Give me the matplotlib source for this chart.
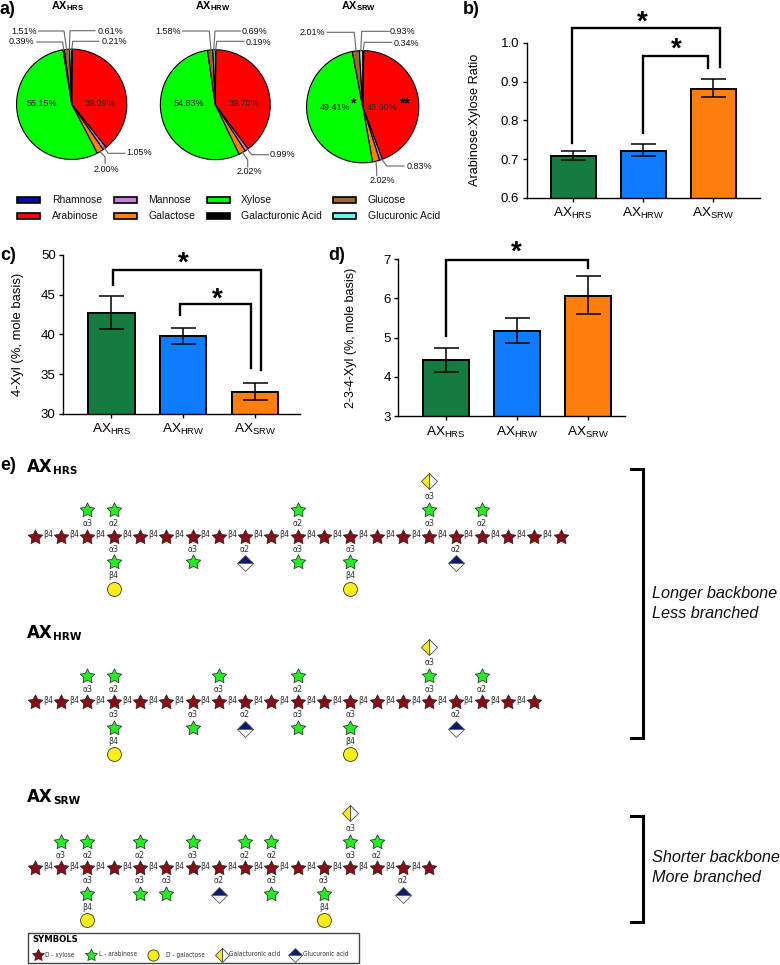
import matplotlib
matplotlib.use("Agg")
from matplotlib import pyplot as plt
from matplotlib.patches import Rectangle
from matplotlib.path import Path

plt.rcParams['font.family'] = ['Liberation Sans', 'DejaVu Sans']
plt.rcParams['mathtext.fontset'] = 'custom'
plt.rcParams['mathtext.rm'] = 'Liberation Sans'
plt.rcParams['mathtext.it'] = 'Liberation Sans:italic'
plt.rcParams['mathtext.bf'] = 'Liberation Sans:bold'
plt.rcParams['mathtext.default'] = 'regular'

W, H = 780, 965

# panel a
sugars = ['Rhamnose', 'Arabinose', 'Mannose', 'Galactose', 'Xylose',
          'Galacturonic Acid', 'Glucose', 'Glucuronic Acid']
sugar_colors = ['#0a0aa8', '#ff0000', '#c77fe0', '#ff8008', '#00ff00',
                '#000000', '#9c6a28', '#70f0f0']
pie_hrs = [0.21, 39.09, 1.05, 2.00, 55.15, 0.39, 1.51, 0.61]
pie_hrw = [0.19, 39.70, 0.99, 2.02, 54.83, 0.00, 1.58, 0.69]
pie_srw = [0.34, 43.60, 0.83, 2.02, 49.41, 0.00, 2.01, 0.93]

# panels b, c, d
groups = ['AX$_{HRS}$', 'AX$_{HRW}$', 'AX$_{SRW}$']
bar_colors = ['#137c3e', '#0f7bff', '#ff7f0e']
ratio_vals = [0.708, 0.722, 0.882]
ratio_up = [0.721, 0.740, 0.907]
ratio_low = [0.697, 0.708, 0.860]
xyl4_vals = [42.7, 39.8, 32.8]
xyl4_up = [44.8, 40.85, 33.9]
xyl4_low = [40.7, 38.85, 31.8]
xyl234_vals = [4.42, 5.18, 6.07]
xyl234_up = [4.74, 5.51, 6.56]
xyl234_low = [4.12, 4.87, 5.60]

# panel e: chain length and branches as (backbone position, linkage)
hrs_n = 21
hrs_up = [(2, 'α3'), (3, 'α2'), (10, 'α2'), (15, 'α3'), (17, 'α2')]
hrs_down = [(3, 'α3'), (6, 'α3'), (10, 'α3'), (12, 'α3')]
hrs_glca = [8, 16]
hrs_gal = [3, 12]
hrs_gala = [15]

hrw_n = 20
hrw_up = [(2, 'α3'), (3, 'α2'), (7, 'α3'), (10, 'α2'), (15, 'α3'), (17, 'α2')]
hrw_down = [(3, 'α3'), (6, 'α3'), (10, 'α3'), (12, 'α3')]
hrw_glca = [8, 16]
hrw_gal = [3, 12]
hrw_gala = [15]

srw_n = 16
srw_up = [(1, 'α3'), (2, 'α2'), (4, 'α2'), (6, 'α3'), (8, 'α2'), (9, 'α2'), (12, 'α3'), (13, 'α2')]
srw_down = [(2, 'α3'), (4, 'α3'), (5, 'α3'), (9, 'α3'), (11, 'α3')]
srw_glca = [7, 14]
srw_gal = [2, 11]
srw_gala = [12]

fig = plt.figure(figsize=(W / 100, H / 100), dpi=100, facecolor='white')


def px_axes(left, top, right, bottom):
    return fig.add_axes([left / W, 1 - bottom / H, (right - left) / W, (bottom - top) / H])


# overlay in image pixels for everything that is not on a data scale
ov = fig.add_axes([0, 0, 1, 1], zorder=5)
ov.set_xlim(0, W)
ov.set_ylim(H, 0)
ov.axis('off')


def star_text(x, y, size=20):
    # asterisk sits high in its glyph box, so place it from the baseline
    ov.text(x, y + 0.45 * size * 100 / 72, '*', fontsize=size, fontweight='bold', ha='center', va='baseline')


# ---- pies
pie_specs = [
    (pie_hrs, 71.7, 104.3, 55.7, 67.7, 5.7, 'AX$_{\\mathbf{HRS}}$'),
    (pie_hrw, 215.3, 104.7, 55.5, 212.7, 6, 'AX$_{\\mathbf{HRW}}$'),
    (pie_srw, 362.7, 106.7, 56.7, 358.3, 6.5, 'AX$_{\\mathbf{SRW}}$'),
]
for vals, cx, cy, r, tx, ty, title in pie_specs:
    pax = px_axes(cx - r, cy - r, cx + r, cy + r)
    pax.pie(vals, colors=sugar_colors, startangle=90, counterclock=False, radius=1,
            wedgeprops={'edgecolor': 'black', 'linewidth': 0.8}, frame=False)
    pax.set_xlim(-1.01, 1.01)
    pax.set_ylim(-1.01, 1.01)
    ov.text(tx, ty, title, fontsize=7.8, fontweight='bold', ha='center', va='center')

callouts = [
    ('1.51%', 24, 31.7, [(38.7, 31), (64, 31), (66.7, 50)]),
    ('0.39%', 21.7, 42, [(36.7, 42), (62.7, 42), (63.7, 50)]),
    ('0.61%', 110.7, 31.3, [(95, 30.7), (70, 30.7), (69.3, 50)]),
    ('0.21%', 114.3, 42, [(99, 41.3), (72.7, 41.3), (71.7, 50)]),
    ('1.05%', 139.3, 152.7, [(125, 153.3), (108.3, 153.3), (103.3, 146.7)]),
    ('2.00%', 106, 169.3, [(105, 163.3), (105, 156.7), (100, 151.7)]),
    ('1.58%', 168, 31, [(182.7, 31), (209.3, 31), (211, 50)]),
    ('0.69%', 255, 31, [(240.7, 31), (215, 31), (213.7, 50)]),
    ('0.19%', 258.3, 42.3, [(244, 41.3), (216.7, 41.3), (215.7, 50)]),
    ('0.99%', 282, 154.7, [(268.3, 154.7), (251.7, 154.7), (246.7, 148.3)]),
    ('2.02%', 249, 171.3, [(247.7, 166.7), (247.7, 160), (242.7, 152.7)]),
    ('2.01%', 312.3, 32.3, [(327.3, 32.3), (354.3, 32.3), (356, 50.7)]),
    ('0.93%', 402.7, 31.3, [(389.3, 31.3), (361.7, 31.3), (360.7, 50.7)]),
    ('0.34%', 406.7, 43.3, [(391.7, 42.3), (364.3, 42.3), (363.3, 50.7)]),
    ('0.83%', 419.3, 166.7, [(404, 166), (386.7, 166), (381.7, 159.3)]),
    ('2.02%', 382.3, 180.3, [(376.7, 175.7), (376.7, 170), (376, 162.3)]),
]
for label, tx, ty, pts in callouts:
    ov.plot([p[0] for p in pts], [p[1] for p in pts], color='#666666', lw=0.8)
    ov.text(tx, ty, label, fontsize=6.5, ha='center', va='center', color='#111111')

inner_labels = [('55.15%', 41.7, 103), ('39.09%', 100, 103), ('54.83%', 188.7, 103.3),
                ('39.70%', 244.3, 103.3), ('49.41%', 335, 108), ('43.60%', 382.3, 108)]
for label, tx, ty in inner_labels:
    ov.text(tx, ty, label, fontsize=6.5, ha='center', va='center', color='#222222')
ov.text(353, 103, '*', fontsize=10, fontweight='bold', ha='center', va='center')
ov.text(404, 103.5, '**', fontsize=10, fontweight='bold', ha='center', va='center')

# pie legend, filled column by column
leg_x = [17.3, 114, 206.7, 333]
leg_text_x = [51.7, 148.3, 241, 367.7]
leg_y = [199.7, 216]
for i, (name, col) in enumerate(zip(sugars, sugar_colors)):
    c, row = i // 2, i % 2
    ov.add_patch(Rectangle((leg_x[c], leg_y[row] - 3), 23, 6, facecolor=col,
                           edgecolor='black', linewidth=1.2))
    ov.text(leg_text_x[c], leg_y[row], name, fontsize=7.5, ha='left', va='center', color='#111111')


# ---- bars
def bar_panel(rect, xlim, ylim, yticks, ytick_fmt, vals, ups, lows, ylabel, ylabel_x, label_size):
    left, top, right, bottom = rect
    ax = px_axes(left, top, right, bottom)
    xs = [0, 1, 2]
    ax.bar(xs, vals, width=0.648, color=bar_colors, edgecolor='black', linewidth=1.4, zorder=2)
    yerr = [[v - l for v, l in zip(vals, lows)], [u - v for u, v in zip(ups, vals)]]
    ax.errorbar(xs, vals, yerr=yerr, fmt='none', ecolor='black', elinewidth=1.1,
                capsize=9, capthick=1.1, zorder=3)
    ax.set_xlim(*xlim)
    ax.set_ylim(*ylim)
    ax.set_xticks(xs)
    ax.set_xticklabels(groups, fontsize=9.7)
    ax.set_yticks(yticks)
    ax.set_yticklabels([ytick_fmt % t for t in yticks], fontsize=9.5)
    ax.tick_params(axis='both', length=3, width=1, pad=2.5)
    ax.tick_params(axis='x', pad=3)
    ax.spines['top'].set_visible(False)
    ax.spines['right'].set_visible(False)
    ax.spines['left'].set_linewidth(1)
    ax.spines['bottom'].set_linewidth(1)
    ax.set_ylabel(ylabel, fontsize=label_size)
    ax.yaxis.set_label_coords((ylabel_x - left) / (right - left), 0.5)
    ax.patch.set_alpha(0)
    return ax


def bracket(ax, x0, x1, top, end0, end1):
    ax.plot([x0, x0, x1, x1], [end0, top, top, end1], color='black', lw=1.7,
            clip_on=False, solid_joinstyle='miter', zorder=4)


ax_b = bar_panel((527, 42.7, 760, 198), (-0.661, 2.667), (0.6, 1.0),
                 [0.6, 0.7, 0.8, 0.9, 1.0], '%.1f', ratio_vals, ratio_up, ratio_low,
                 'Arabinose:Xylose Ratio', 480.7, 9.2)
bracket(ax_b, -0.015, 2.1, 1.037, 0.742, 0.938)
bracket(ax_b, 0.99, 1.93, 0.9665, 0.768, 0.936)
star_text(642.7, 17)
star_text(676, 44)

ax_c = bar_panel((63.3, 255, 300, 414), (-0.672, 2.63), (30, 50),
                 [30, 35, 40, 45, 50], '%d', xyl4_vals, xyl4_up, xyl4_low,
                 '4-Xyl (%, mole basis)', 24, 9.4)
bracket(ax_c, 0.025, 2.09, 48.1, 46.2, 35.5)
bracket(ax_c, 0.96, 1.945, 43.8, 42.45, 35.75)
star_text(183.3, 257.7)
star_text(217.3, 294.3)

ax_d = bar_panel((398.3, 259, 625, 416.3), (-0.668, 2.52), (3, 7),
                 [3, 4, 5, 6, 7], '%d', xyl234_vals, xyl234_up, xyl234_low,
                 '2-3-4-Xyl (%, mole basis)', 357.3, 9.0)
bracket(ax_d, 0.0, 2.0, 6.98, 5.05, 6.78)
star_text(516.7, 246.7)

panel_labels = [('a)', 0, 10), ('b)', 463, 10), ('c)', 0, 255), ('d)', 328, 255), ('e)', 0, 466)]
for label, tx, ty in panel_labels:
    ov.text(tx, ty, label, fontsize=13, fontweight='bold', ha='left', va='center')

# ---- glycan chains
XYL = '#8b0a14'
ARA = '#22ee22'
GAL = '#ffee11'
NAVY = '#0a1a6e'
PITCH = 26.3
X0 = 34.7
# the reference stars are plumper than the built-in '*' marker
FAT_STAR = Path.unit_regular_star(5, innerCircle=0.5)


def col_x(c):
    return X0 + c * PITCH


def link_text(x, y, s, size=6.2):
    ov.text(x, y, s, fontsize=size, ha='center', va='center', color='#333333',
            family='DejaVu Sans', stretch='condensed')


def sym_star(x, y, color, ms=11):
    ov.plot([x], [y], marker=FAT_STAR, ms=ms, mfc=color, mec='#222222', mew=0.5, ls='none')


def sym_circle(x, y, ms=10):
    ov.plot([x], [y], marker='o', ms=ms, mfc=GAL, mec='#333333', mew=0.6, ls='none')


def sym_gala(x, y, ms=8.6):
    ov.plot([x], [y], marker='D', ms=ms, fillstyle='left', mfc=GAL, mfcalt='white',
            mec='#444444', mew=0.6, ls='none')


def sym_glca(x, y, ms=8.2):
    ov.plot([x], [y], marker='D', ms=ms, fillstyle='top', mfc=NAVY, mfcalt='white',
            mec='#555555', mew=0.6, ls='none')


def draw_chain(y, n, up, down, glca, gal, gala):
    for c in range(n):
        sym_star(col_x(c), y, XYL)
        if c < n - 1:
            link_text(col_x(c) + PITCH / 2, y - 2, 'β4')
    for c, link in up:
        sym_star(col_x(c), y - 26.7, ARA)
        link_text(col_x(c), y - 13, link)
    for c, link in down:
        sym_star(col_x(c), y + 25.7, ARA)
        link_text(col_x(c), y + 12.3, link)
    for c in glca:
        sym_glca(col_x(c), y + 26.7)
        link_text(col_x(c), y + 12.3, 'α2')
    for c in gal:
        sym_circle(col_x(c), y + 52)
        link_text(col_x(c), y + 39.3, 'β4')
    for c in gala:
        sym_gala(col_x(c), y - 55.7)
        link_text(col_x(c), y - 40, 'α3')


draw_chain(536.7, hrs_n, hrs_up, hrs_down, hrs_glca, hrs_gal, hrs_gala)
draw_chain(702.3, hrw_n, hrw_up, hrw_down, hrw_glca, hrw_gal, hrw_gala)
draw_chain(868.3, srw_n, srw_up, srw_down, srw_glca, srw_gal, srw_gala)

headings = [('AX', 'HRS', 466.7), ('AX', 'HRW', 633), ('AX', 'SRW', 797)]
for big, small, ty in headings:
    ov.text(27.3, ty, big, fontsize=12, fontweight='bold', family='DejaVu Sans',
            ha='left', va='center')
    ov.text(53, ty + 4, small, fontsize=7.6, fontweight='bold', family='DejaVu Sans',
            ha='left', va='center')

# right hand brackets and notes
for y0, y1 in [(469.3, 737.7), (815.7, 922.3)]:
    ov.plot([630.7, 643.3, 643.3, 630.7], [y0, y0, y1, y1], color='black', lw=2.2,
            solid_joinstyle='miter')
notes = [('Longer backbone', 593.3), ('Less branched', 613.3),
         ('Shorter backbone', 857.7), ('More branched', 877.7)]
for label, ty in notes:
    ov.text(652.3, ty, label, fontsize=11.7, style='italic', ha='left', va='center', color='#111111')

# symbols key
ov.add_patch(Rectangle((28.3, 932.7), 331, 30.6, facecolor='white', edgecolor='#444444', linewidth=1))
ov.text(32.3, 940, 'SYMBOLS', fontsize=6.1, fontweight='bold', family='DejaVu Sans', ha='left', va='center')
KEY_Y = 955
sym_star(37.7, KEY_Y, XYL, ms=9)
sym_star(90.7, KEY_Y, ARA, ms=9)
sym_circle(152.7, KEY_Y, ms=8)
sym_gala(222.3, KEY_Y, ms=7)
sym_glca(294.7, KEY_Y, ms=7)
key_labels = [('D - xylose', 45), ('L - arabinose', 99.3), ('D - galactose', 165.7),
              ('Galacturonic acid', 229), ('Glucuronic acid', 303.3)]
for label, tx in key_labels:
    ov.text(tx, KEY_Y - 0.5, label, fontsize=4.7, ha='left', va='center', color='#333333',
            family='DejaVu Sans', stretch='condensed')

fig.savefig('out.png', dpi=100, facecolor='white')
